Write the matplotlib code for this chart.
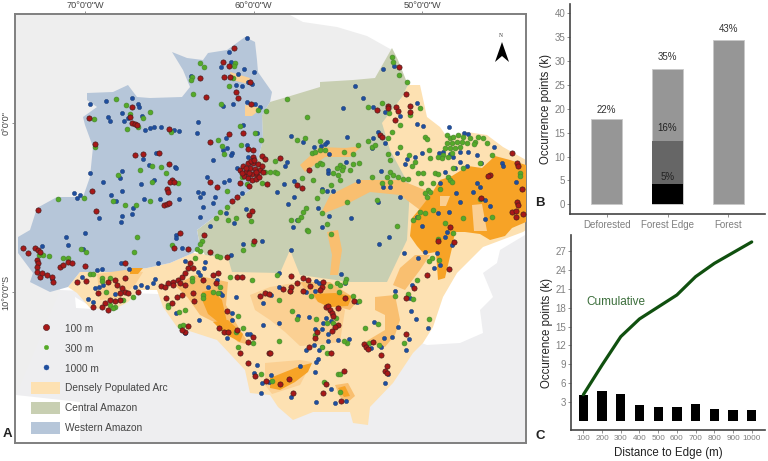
import matplotlib
matplotlib.use("Agg")
import matplotlib.pyplot as plt
from matplotlib.lines import Line2D
from matplotlib.patches import Patch

plt.rcParams["font.family"] = ["Liberation Sans", "DejaVu Sans"]

W, H = 768, 461

# map outlines and sites (picture x, y), converted to lon/lat below
land_north = [(16, 15), (290, 15), (303, 22), (337, 27), (367, 36), (392, 50), (392, 150), (16, 250)]
land_west = [(16, 200), (60, 200), (60, 300), (90, 390), (16, 395)]
land_south = [(16, 395), (80, 402), (80, 443), (525, 443), (525, 235), (500, 250), (497, 263), (483, 273),
              (493, 297), (480, 310), (483, 333), (460, 343), (427, 345), (413, 340), (300, 300), (60, 290)]
white_patch = [(75, 297), (90, 306), (92, 309), (76, 308)]

arc_region = [(408, 85), (420, 85), (427, 117), (440, 127), (447, 137), (467, 132), (487, 135), (503, 147),
              (526, 160), (526, 230), (523, 232), (483, 247), (457, 273), (443, 297), (433, 327), (423, 343),
              (413, 353), (393, 383), (370, 407), (368, 425), (353, 423), (350, 412), (313, 412), (293, 420),
              (278, 407), (270, 395), (250, 393), (245, 370), (217, 340), (177, 327), (163, 307), (157, 290),
              (140, 290), (128, 302), (113, 310), (90, 308), (77, 293), (68, 287), (80, 272), (117, 272),
              (147, 268), (170, 263), (193, 253), (227, 257), (300, 200), (400, 100)]
central_region = [(263, 140), (250, 190), (197, 230), (200, 247), (205, 255), (228, 258), (232, 272), (280, 273),
                  (290, 250), (300, 275), (350, 282), (387, 282), (407, 240), (410, 187), (390, 150), (382, 123),
                  (402, 97), (408, 85), (398, 60), (392, 48), (375, 78), (353, 80), (320, 82), (320, 87),
                  (287, 97), (270, 102), (262, 115)]
western_region = [(30, 230), (37, 208), (57, 197), (83, 197), (90, 177), (93, 147), (85, 125), (83, 117), (97, 107),
                  (87, 100), (87, 93), (113, 92), (128, 85), (137, 97), (150, 98), (182, 97), (190, 87), (183, 70),
                  (172, 52), (187, 58), (203, 60), (208, 53), (227, 50), (245, 37), (255, 42), (257, 60), (258, 72),
                  (272, 92), (270, 102), (262, 115), (263, 140), (250, 190), (197, 230), (200, 247), (193, 253),
                  (170, 263), (147, 268), (117, 272), (80, 272), (68, 287), (50, 292), (30, 282), (33, 273),
                  (18, 253), (18, 237)]

dense_patches = [
    [(432, 193), (440, 180), (452, 176), (468, 166), (482, 168), (495, 156), (510, 160), (526, 165), (526, 222),
     (512, 228), (505, 236), (490, 240), (480, 234), (465, 232), (455, 232), (452, 248), (445, 278), (438, 280),
     (436, 252), (424, 254), (417, 246), (410, 236), (412, 218), (422, 206)],
    [(300, 366), (312, 363), (308, 372), (295, 382), (280, 390), (270, 388), (270, 378), (285, 372)],
    [(202, 292), (212, 290), (222, 300), (227, 322), (218, 322), (208, 314), (203, 302)],
    [(213, 322), (228, 320), (243, 334), (240, 342), (225, 334)],
    [(313, 294), (335, 293), (352, 296), (348, 306), (330, 307), (318, 302)],
    [(130, 268), (143, 268), (138, 274), (130, 274)],
    [(338, 388), (345, 386), (350, 396), (344, 397)],
]
light_patches = [
    [(330, 195), (360, 180), (400, 180), (425, 190), (430, 215), (420, 210), (400, 195), (370, 192), (345, 205),
     (320, 215)],
    [(320, 147), (345, 148), (362, 146), (350, 157), (325, 157), (305, 172), (300, 165)],
    [(415, 255), (430, 255), (420, 270), (405, 290), (393, 285), (400, 268)],
    [(375, 297), (395, 295), (400, 320), (395, 335), (385, 347), (365, 342), (385, 330), (385, 315), (375, 310)],
    [(327, 232), (338, 230), (342, 250), (338, 275), (330, 275), (332, 255)],
    [(300, 282), (330, 282), (345, 292), (358, 300), (350, 310), (342, 308), (325, 306), (310, 296)],
    [(175, 285), (195, 275), (228, 282), (226, 305), (240, 330), (250, 345), (238, 342), (220, 325), (200, 315),
     (188, 298)],
    [(335, 385), (348, 383), (355, 396), (348, 402), (340, 397)],
]
faint_patches = [
    [(270, 287), (300, 282), (345, 310), (340, 342), (315, 345), (300, 346), (285, 332), (270, 320), (255, 310),
     (250, 295)],
    [(97, 274), (125, 270), (143, 272), (135, 285), (120, 298), (100, 300)],
    [(230, 72), (250, 78), (248, 84), (232, 80)],
    [(245, 105), (262, 108), (252, 116), (245, 116)],
    [(265, 363), (300, 360), (312, 362), (300, 385), (272, 394), (265, 385)],
]
light_holes = [
    [(472, 205), (482, 204), (487, 231), (474, 231)],
    [(440, 196), (450, 196), (446, 206), (440, 206)],
]

red_sites = [(234, 48), (223, 62), (229, 66), (200, 78), (224, 77), (230, 77), (250, 82), (236, 92), (238, 98),
             (206, 97), (251, 104), (132, 107), (89, 118), (130, 117), (132, 123), (135, 124), (137, 125), (169, 129),
             (95, 144), (210, 142), (229, 134), (243, 133), (135, 155), (143, 154), (159, 153), (169, 164), (248, 149),
             (253, 150), (262, 156), (265, 159), (253, 157), (240, 170), (243, 166), (246, 172), (248, 163), (250, 168),
             (252, 174), (253, 163), (255, 169), (257, 175), (258, 164), (260, 170), (262, 166), (244, 176), (248, 178),
             (252, 180), (256, 179), (246, 168), (251, 161), (256, 172), (254, 160), (242, 173), (259, 177), (263, 172),
             (249, 173), (172, 180), (170, 182), (174, 182), (167, 189), (168, 192), (92, 191), (210, 182), (217, 187),
             (240, 183), (249, 186), (38, 210), (96, 211), (164, 205), (167, 204), (169, 203), (232, 201), (237, 197),
             (252, 211), (249, 215), (267, 184),
             (23, 248), (28, 253), (35, 248), (38, 250), (40, 252), (37, 260), (38, 263), (37, 267), (37, 272), (40, 277),
             (42, 273), (47, 275), (52, 277), (53, 282), (60, 267), (63, 265), (68, 262), (72, 263), (85, 266), (77, 282),
             (86, 281), (98, 293), (115, 280), (108, 282), (117, 285), (125, 278), (122, 288), (125, 292), (128, 293),
             (120, 293), (120, 300), (115, 301), (110, 300), (105, 303), (102, 307), (93, 307), (108, 310), (138, 292),
             (125, 263), (180, 233), (174, 248), (188, 249), (204, 235), (210, 252), (227, 257), (254, 241), (161, 286),
             (165, 287), (168, 283), (173, 282), (178, 280), (182, 277), (185, 273), (188, 268), (193, 268), (190, 263),
             (173, 285), (180, 283), (185, 285), (166, 298), (172, 303), (177, 297), (182, 295), (193, 293), (194, 301),
             (203, 280), (213, 275), (218, 273), (216, 283), (237, 277), (242, 277), (227, 311), (219, 328), (224, 332),
             (228, 332), (237, 330), (248, 342), (253, 337), (240, 353), (248, 363), (255, 376), (266, 381), (269, 353),
             (260, 296), (265, 293), (269, 294), (188, 326), (185, 332), (182, 330),
             (399, 67), (406, 94), (377, 110), (388, 106), (388, 108), (396, 107), (398, 111), (410, 106), (410, 112),
             (395, 120), (380, 135), (382, 137), (280, 158), (309, 170), (297, 185), (302, 188), (512, 153), (517, 163),
             (518, 166), (490, 175), (488, 176), (481, 198), (517, 202), (518, 205), (512, 212), (516, 211), (516, 217),
             (523, 214), (522, 189), (450, 227),
             (438, 241), (454, 242), (427, 275), (449, 269), (414, 288), (406, 298), (291, 276), (303, 278), (308, 280),
             (323, 282), (322, 287), (320, 290), (297, 283), (310, 286), (291, 287), (283, 289), (303, 291), (290, 291),
             (345, 298), (354, 301), (326, 307), (328, 306), (338, 308), (330, 310), (332, 313), (333, 316), (338, 325),
             (335, 327), (332, 331), (317, 332), (315, 338), (309, 347), (331, 353), (270, 353), (364, 344), (366, 347),
             (368, 349), (373, 342), (381, 355), (406, 334), (387, 366), (385, 371), (387, 373), (344, 371), (289, 379),
             (280, 384), (293, 393), (326, 384), (323, 393), (341, 401)]

green_sites = [(116, 99), (126, 105), (200, 63), (204, 67), (192, 77), (191, 80), (235, 63), (234, 66), (233, 78), (229, 86),
               (193, 94), (221, 104), (258, 110), (266, 111), (94, 119), (130, 114), (143, 118), (150, 112), (127, 129),
               (138, 127), (171, 132), (240, 126), (255, 133), (261, 140), (241, 145), (218, 140), (222, 146), (224, 154),
               (95, 147), (152, 166), (161, 167), (140, 170), (166, 173), (118, 175), (152, 182), (178, 183), (58, 199),
               (84, 198), (113, 201), (125, 205), (136, 205), (150, 201), (227, 191), (262, 183), (247, 184), (242, 177),
               (220, 212), (227, 207), (216, 218), (228, 220), (236, 218), (251, 221), (265, 172),
               (137, 237), (81, 249), (86, 252), (134, 252), (202, 241), (200, 244), (172, 245), (197, 249), (200, 251),
               (217, 256), (220, 257), (195, 258), (243, 250), (253, 244), (43, 255), (49, 256), (39, 255), (63, 258),
               (68, 258), (90, 274), (93, 274), (102, 278), (102, 281), (110, 278), (106, 292), (110, 305), (115, 307),
               (113, 308), (123, 300), (133, 297), (168, 305), (168, 307), (179, 312), (185, 310), (180, 326), (183, 325),
               (192, 278), (192, 281), (203, 295), (203, 298), (213, 292), (220, 287), (218, 293), (230, 277), (252, 280),
               (238, 316), (243, 328), (236, 332), (238, 347), (253, 343), (261, 374),
               (392, 57), (393, 62), (399, 75), (407, 82), (287, 99), (307, 117), (368, 107), (382, 103), (389, 113),
               (410, 115), (420, 108), (400, 125), (392, 132), (388, 138), (425, 137), (427, 139), (400, 147), (368, 141),
               (372, 147), (375, 145), (358, 145), (297, 140), (305, 138), (320, 141), (312, 153), (315, 152), (320, 150),
               (325, 150), (275, 161), (317, 165), (320, 163), (322, 164), (340, 165), (343, 167), (337, 168), (342, 170),
               (333, 173), (338, 175), (350, 170), (359, 163), (353, 164), (344, 152), (353, 154), (270, 172), (275, 172),
               (277, 173), (302, 178), (313, 180), (340, 180), (331, 185), (388, 154), (390, 160), (390, 172), (393, 175),
               (398, 177), (387, 177), (382, 183), (390, 182), (403, 179), (408, 179), (372, 177), (421, 183), (418, 173),
               (423, 173), (429, 150), (409, 155), (415, 162), (412, 166), (433, 183), (428, 190), (425, 193), (440, 189),
               (435, 173), (438, 174), (427, 197), (430, 192),
               (447, 135), (450, 138), (453, 137), (458, 135), (463, 137), (470, 138), (478, 137), (483, 138), (447, 143),
               (452, 143), (457, 142), (462, 142), (467, 143), (475, 142), (487, 143), (445, 148), (450, 148), (455, 148),
               (460, 147), (443, 155), (448, 157), (452, 153), (438, 157), (442, 158), (430, 158), (492, 155), (474, 144),
               (448, 177), (450, 180), (453, 168), (463, 168), (452, 182), (480, 163), (520, 173), (520, 176), (480, 199),
               (492, 217), (445, 223), (463, 218), (433, 210), (425, 213), (420, 212), (413, 220), (418, 217), (397, 226),
               (377, 200), (347, 202), (317, 198), (322, 191), (306, 208), (303, 212), (301, 217), (298, 220), (291, 220),
               (322, 213), (327, 224), (307, 230),
               (453, 233), (438, 239), (432, 258), (429, 261), (439, 260), (417, 280), (408, 294), (395, 296), (413, 299),
               (429, 319), (404, 343), (378, 324), (365, 328), (379, 345), (369, 343), (347, 343), (344, 341), (322, 347),
               (327, 353), (338, 374), (340, 374), (324, 382), (340, 392), (272, 381), (279, 341), (292, 311), (297, 319),
               (316, 319), (315, 335), (327, 323), (333, 323), (336, 318), (353, 296), (359, 301), (339, 292), (346, 279),
               (345, 282), (330, 286), (337, 283), (340, 285), (311, 296), (279, 300), (290, 291), (277, 275), (308, 231),
               (331, 234)]

blue_sites = [(247, 38), (229, 52), (231, 62), (221, 67), (244, 69), (254, 72), (238, 74), (191, 76), (236, 85), (242, 86),
              (248, 82), (252, 84), (233, 104), (223, 106), (247, 102), (255, 104), (260, 107), (106, 101), (132, 98),
              (90, 104), (138, 104), (139, 107), (122, 113), (108, 117), (110, 121), (124, 121), (128, 118), (142, 116),
              (145, 130), (150, 128), (154, 127), (161, 127), (174, 130), (179, 131), (198, 122), (197, 133), (243, 125),
              (257, 133), (226, 138), (223, 150), (227, 148), (232, 153), (231, 155), (247, 145), (248, 157), (213, 160),
              (156, 153), (143, 159), (149, 165), (175, 167), (176, 168), (90, 173), (122, 171), (120, 178), (154, 180),
              (103, 182), (141, 184), (207, 177), (224, 182), (229, 180), (237, 168), (74, 193), (80, 195), (77, 198),
              (111, 195), (122, 191), (144, 199), (160, 199), (179, 199), (198, 192), (203, 193), (200, 197), (215, 197),
              (213, 203), (203, 207), (200, 217), (226, 213), (242, 193), (246, 209), (116, 201), (133, 208), (132, 214),
              (122, 216), (99, 218), (121, 222), (210, 226), (234, 223),
              (66, 237), (85, 233), (68, 245), (176, 235), (176, 238), (182, 248), (158, 263), (121, 263), (129, 269),
              (97, 270), (102, 269), (82, 277), (95, 288), (99, 287), (103, 285), (115, 294), (88, 299), (93, 302),
              (42, 246), (83, 249), (52, 279), (135, 287), (141, 285), (147, 287), (153, 283), (155, 279), (185, 261),
              (205, 262), (204, 268), (198, 272), (200, 275), (217, 280), (208, 287), (220, 293), (222, 295), (236, 297),
              (176, 313), (199, 320), (232, 313), (232, 320), (247, 334), (250, 334), (227, 338), (263, 303), (263, 325),
              (257, 365), (254, 373), (262, 383), (261, 393), (269, 382), (243, 244), (262, 241), (231, 255), (185, 333),
              (383, 69), (394, 66), (355, 86), (363, 98), (343, 108), (373, 107), (385, 112), (400, 116), (417, 103),
              (417, 124), (423, 126), (449, 127), (464, 133), (468, 134), (291, 136), (303, 142), (327, 142), (325, 144),
              (347, 137), (321, 146), (314, 147), (329, 154), (378, 132), (385, 143), (373, 138), (372, 148), (397, 153),
              (422, 153), (415, 157), (407, 159), (405, 164), (287, 162), (285, 166), (284, 184), (294, 181), (277, 192),
              (294, 197), (288, 204), (322, 189), (327, 191), (333, 191), (346, 162), (328, 173), (328, 170), (358, 181),
              (381, 171), (383, 187), (390, 187), (400, 197), (439, 153), (443, 152), (460, 152), (468, 152), (477, 155),
              (494, 147), (450, 154), (453, 157), (502, 163), (503, 166), (481, 163), (460, 162), (467, 166), (455, 168),
              (445, 172), (516, 182), (477, 183), (480, 187), (473, 192), (456, 193), (440, 183), (485, 200), (490, 206),
              (460, 202), (449, 212), (438, 213), (485, 219), (417, 217), (422, 226), (351, 218), (329, 216), (318, 208),
              (378, 202), (293, 227), (322, 227), (297, 220),
              (447, 232), (445, 237), (452, 245), (389, 237), (379, 244), (291, 250), (404, 253), (425, 252), (418, 258),
              (437, 253), (440, 265), (434, 268), (412, 285), (395, 291), (410, 298), (411, 311), (416, 319), (428, 328),
              (398, 327), (374, 322), (409, 339), (392, 337), (384, 338), (406, 350), (381, 347), (371, 348), (349, 339),
              (338, 340), (341, 274), (316, 281), (306, 292), (315, 291), (319, 283), (345, 283), (357, 302), (279, 273),
              (279, 287), (271, 295), (298, 316), (309, 317), (279, 323), (326, 318), (331, 321), (323, 323), (315, 329),
              (322, 329), (328, 334), (328, 341), (314, 345), (306, 350), (319, 350), (322, 347), (318, 359), (316, 362),
              (315, 372), (300, 366), (271, 375), (385, 383), (388, 374), (331, 389), (316, 402), (335, 403), (346, 401),
              (291, 397)]

north_arrow = [(502, 42), (509, 62), (502, 56), (495, 62)]

# panel B
cover_labels = ["Deforested", "Forest Edge", "Forest"]
cover_totals = [17.8, 28.4, 34.5]
edge_100m = 4.2
edge_300m = 13.2
cover_pct = ["22%", "35%", "43%"]
cover_pct_y = [19.8, 30.8, 36.8]
edge_pct = ["5%", "16%"]
edge_pct_y = [5.8, 15.9]

# panel C
distances = [100, 200, 300, 400, 500, 600, 700, 800, 900, 1000]
per_distance = [4.2, 4.75, 4.3, 2.6, 2.2, 2.2, 2.65, 2.0, 1.7, 1.8]
cumulative = [4.2, 8.9, 13.4, 16.2, 18.1, 20.0, 22.9, 25.0, 26.7, 28.4]


def lonlat(pts):
    lon = [-70 + (p[0] - 85) / 16.85 for p in pts]
    lat = [-(p[1] - 123) / 16.9 for p in pts]
    return lon, lat


def area(left, top, right, bottom):
    return [left / W, 1 - bottom / H, (right - left) / W, (bottom - top) / H]


GRAY = "#7f7f7f"
TXT = "#444444"
RED = "#a81818"
GREEN = "#55aa28"
BLUE = "#1f4e9e"

fig = plt.figure(figsize=(W / 100, H / 100), dpi=100)

# ---- map
ax = fig.add_axes(area(15, 14, 526, 443))
lim_x, lim_y = lonlat([(15, 14), (526, 443)])
ax.set_xlim(lim_x)
ax.set_ylim(sorted(lim_y))
for shape, col, z in [(land_north, "#eeeeee", 1), (land_west, "#eeeeee", 1), (land_south, "#eeeef0", 1),
                      (white_patch, "white", 1.5), (arc_region, "#fde1b2", 2), (central_region, "#c8cfb2", 3),
                      (western_region, "#b6c6d9", 3)]:
    x, y = lonlat(shape)
    ax.fill(x, y, color=col, lw=0, zorder=z)
for shape in faint_patches:
    x, y = lonlat(shape)
    ax.fill(x, y, color="#fbd093", lw=0, zorder=3.5)
for shape in light_patches:
    x, y = lonlat(shape)
    ax.fill(x, y, color="#f9bf70", lw=0, zorder=4)
for shape in dense_patches:
    x, y = lonlat(shape)
    ax.fill(x, y, color="#f7a326", lw=0, zorder=5)
for shape in light_holes:
    x, y = lonlat(shape)
    ax.fill(x, y, color="#fbcf92", lw=0, zorder=5.5)

x, y = lonlat(blue_sites)
ax.scatter(x, y, s=9.5, c=BLUE, edgecolors="#1d3c6e", linewidths=0.3, zorder=6)
x, y = lonlat(green_sites)
ax.scatter(x, y, s=12, c=GREEN, edgecolors="#4a8a30", linewidths=0.5, zorder=7)
x, y = lonlat(red_sites)
ax.scatter(x, y, s=14, c=RED, edgecolors="#4a1c1c", linewidths=0.5, zorder=8)

x, y = lonlat(north_arrow)
ax.fill(x, y, color="black", lw=0, zorder=9)
x, y = lonlat([(501, 35)])
ax.text(x[0], y[0], "N", fontsize=4, family="Liberation Serif", ha="center", va="center", color="#333333", zorder=9)

ax.xaxis.tick_top()
ax.set_xticks([-70, -60, -50])
ax.set_xticklabels(["70°0'0\"W", "60°0'0\"W", "50°0'0\"W"])
ax.set_yticks([0, -10])
ax.set_yticklabels(["0°0'0\"", "10°0'0\"S"], rotation=90, va="center")
ax.tick_params(length=2, width=0.6, color=GRAY, labelcolor=TXT, labelsize=6.6, pad=1)
for s in ax.spines.values():
    s.set_color(GRAY)
    s.set_linewidth(1.4)

handles = [Line2D([], [], ls="", marker="o", ms=4.4, mfc=RED, mec="#4a1c1c", mew=0.4),
           Line2D([], [], ls="", marker="o", ms=3.2, mfc=GREEN, mec=GREEN, mew=0.3),
           Line2D([], [], ls="", marker="o", ms=3.6, mfc=BLUE, mec=BLUE, mew=0.3),
           Patch(fc="#fde1b2", ec="none"), Patch(fc="#c8cfb2", ec="none"), Patch(fc="#b6c6d9", ec="none")]
names = ["100 m", "300 m", "1000 m", "Densely Populated Arc", "Central Amazon", "Western Amazon"]
leg = ax.legend(handles, names, loc="lower left", bbox_to_anchor=(16 / 511, 9.5 / 429), borderaxespad=0,
                borderpad=0, frameon=False, fontsize=7.3, labelcolor=TXT, handlelength=2.9, handleheight=1.4,
                handletextpad=0.5, labelspacing=0.8)
leg.set_zorder(10)

# ---- panel B
axb = fig.add_axes(area(570, 4, 765, 214))
axb.bar(range(3), cover_totals, width=0.5, color="#969696", edgecolor="#c8c8c8", linewidth=0.6)
axb.bar(1, edge_300m, width=0.5, color="#666666")
axb.bar(1, edge_100m, width=0.5, color="black")
for i in range(3):
    axb.text(i, cover_pct_y[i], cover_pct[i], ha="center", va="center", fontsize=7, color="#333333")
for i in range(2):
    axb.text(1, edge_pct_y[i], edge_pct[i], ha="center", va="center", fontsize=7, color="#222222")
axb.set_xlim(-0.6, 2.6)
axb.set_ylim(-2.03, 41.95)
axb.set_xticks(range(3))
axb.set_xticklabels(cover_labels)
axb.set_yticks(range(0, 41, 5))
axb.set_ylabel("Occurrence points (k)", fontsize=8.3, color="#222222", labelpad=2)
axb.tick_params(length=2, width=0.6, color=GRAY, labelcolor=GRAY, labelsize=7, pad=1.5)
axb.tick_params(axis="x", pad=2.5)

# ---- panel C
axc = fig.add_axes(area(571, 235, 765, 430))
axc.bar(distances, per_distance, width=50, color="black")
axc.plot(distances, cumulative, color="#10500f", lw=2.3, solid_capstyle="round")
axc.text(114, 18.9, "Cumulative", fontsize=8.5, color="#3b6e3b", ha="left", va="center")
axc.set_xlim(34, 1071)
axc.set_ylim(-1.39, 29.5)
axc.set_xticks(distances)
axc.set_yticks(range(3, 28, 3))
axc.set_xlabel("Distance to Edge (m)", fontsize=8.3, color="#222222", labelpad=4)
axc.set_ylabel("Occurrence points (k)", fontsize=8.3, color="#222222", labelpad=2)
axc.tick_params(length=2, width=0.6, color=GRAY, labelcolor=GRAY, pad=1.5)
axc.tick_params(axis="x", labelsize=5.9)
axc.tick_params(axis="y", labelsize=7)

for a in (axb, axc):
    a.spines["top"].set_visible(False)
    a.spines["right"].set_visible(False)
    a.spines["left"].set_color("#444444")
    a.spines["bottom"].set_color("#444444")
    a.spines["left"].set_linewidth(1.2)
    a.spines["bottom"].set_linewidth(1.2)

# panel letters
fig.text(7 / W, 1 - 434 / H, "A", fontsize=9.5, fontweight="bold", color="#222222", ha="center", va="center")
fig.text(540 / W, 1 - 203 / H, "B", fontsize=9.5, fontweight="bold", color="#222222", ha="center", va="center")
fig.text(540 / W, 1 - 436 / H, "C", fontsize=9.5, fontweight="bold", color="#222222", ha="center", va="center")

fig.savefig("out.png", dpi=100)
